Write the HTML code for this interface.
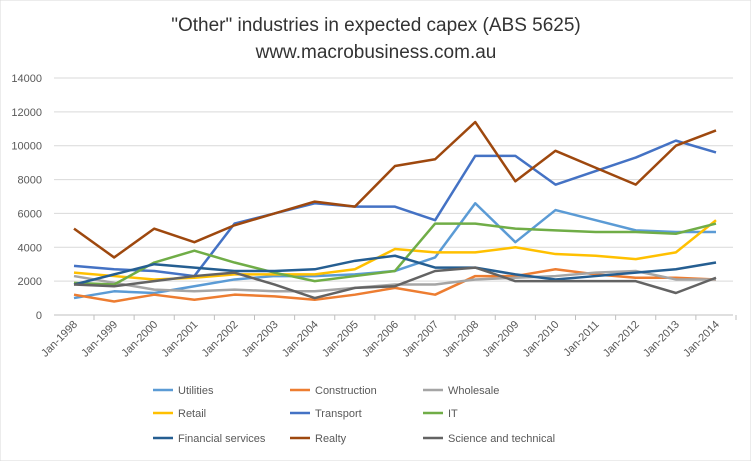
<!DOCTYPE html>
<html><head><meta charset="utf-8"><style>
body{margin:0;background:#fff;font-family:"Liberation Sans",sans-serif}
svg text{font-family:"Liberation Sans",sans-serif}
</style></head><body>
<svg id="c" width="751" height="461" xmlns="http://www.w3.org/2000/svg">
<rect width="751" height="461" fill="#fff" stroke="#d9d9d9"/>
<text x="376" y="31" text-anchor="middle" font-size="19" fill="#333">"Other" industries in expected capex (ABS 5625)</text>
<text x="376" y="58" text-anchor="middle" font-size="19" fill="#333">www.macrobusiness.com.au</text>
<g id="grid"></g><g id="series"></g><g id="legend"></g>
</svg>
<script>
const categories=["Jan-1998","Jan-1999","Jan-2000","Jan-2001","Jan-2002","Jan-2003","Jan-2004","Jan-2005","Jan-2006","Jan-2007","Jan-2008","Jan-2009","Jan-2010","Jan-2011","Jan-2012","Jan-2013","Jan-2014"];
const yTicks=[0,2000,4000,6000,8000,10000,12000,14000];
const seriesNames=["Utilities","Construction","Wholesale","Retail","Transport","IT","Financial services","Realty","Science and technical"];
const utilities=[1000,1400,1300,1700,2100,2300,2300,2400,2600,3400,6600,4300,6200,5600,5000,4900,4900];
const construction=[1200,800,1200,900,1200,1100,900,1200,1600,1200,2300,2300,2700,2400,2200,2200,2100];
const wholesale=[2300,1900,1500,1400,1500,1400,1400,1600,1800,1800,2100,2200,2300,2500,2600,2100,2100];
const retail=[2500,2300,2100,2200,2400,2400,2400,2700,3900,3700,3700,4000,3600,3500,3300,3700,5600];
const transport=[2900,2700,2600,2300,5400,6000,6600,6400,6400,5600,9400,9400,7700,8500,9300,10300,9600];
const it=[1900,1800,3100,3800,3100,2500,2000,2300,2600,5400,5400,5100,5000,4900,4900,4800,5400];
const financial=[1800,2400,3000,2800,2600,2600,2700,3200,3500,2800,2800,2400,2100,2300,2500,2700,3100];
const realty=[5100,3400,5100,4300,5300,6000,6700,6400,8800,9200,11400,7900,9700,8700,7700,10000,10900];
const science=[1800,1700,2000,2300,2500,1800,1000,1600,1700,2600,2800,2000,2000,2000,2000,1300,2200];
const allSeries=[utilities,construction,wholesale,retail,transport,it,financial,realty,science];
const colors=["#5B9BD5","#ED7D31","#A5A5A5","#FFC000","#4472C4","#70AD47","#255E91","#9E480E","#636363"];
const NS="http://www.w3.org/2000/svg";
const X0=74,X1=716,Y0=315,Y1=78;
const x=i=>X0+(X1-X0)*i/(categories.length-1);
const y=v=>Y0-(Y0-Y1)*v/14000;
function mk(tag,attrs,parent,txt){const e=document.createElementNS(NS,tag);for(const k in attrs)e.setAttribute(k,attrs[k]);if(txt!==undefined)e.textContent=txt;parent.appendChild(e);return e;}
const grid=document.getElementById('grid');
yTicks.forEach(t=>{
 const l=mk('line',{x1:54,x2:733,y1:y(t),y2:y(t),stroke:t===0?'#bfbfbf':'#d9d9d9','stroke-width':1},grid);
 
 
 const tx=mk('text',{x:42,y:y(t)+4,'text-anchor':'end','font-size':11,fill:'#595959'},grid,String(t));
 
 
});
categories.forEach((c,i)=>{
 const tk=mk('line',{x1:x(i)+20,x2:x(i)+20,y1:Y0,y2:Y0+5,stroke:'#bfbfbf'},grid);
 
 
 const tx=mk('text',{x:x(i)+4,y:Y0+10,'text-anchor':'end','font-size':11,fill:'#595959',transform:`rotate(-45 ${x(i)+4} ${Y0+10})`},grid,c);
 
 
});
const sg=document.getElementById('series');
allSeries.forEach((s,k)=>{
 const p=mk('polyline',{points:s.map((v,i)=>x(i)+','+y(v)).join(' '),fill:'none',stroke:colors[k],'stroke-width':2.5,'stroke-linejoin':'round'},sg);
 
 
});
const lg=document.getElementById('legend');
const lx=[153,290,423],ly=[390,413,438];
seriesNames.forEach((n,k)=>{
 const cx=lx[k%3],cy=ly[Math.floor(k/3)];
 const l=mk('line',{x1:cx,x2:cx+20,y1:cy,y2:cy,stroke:colors[k],'stroke-width':2.5},lg);
 
 
 const t=mk('text',{x:cx+25,y:cy+4,'font-size':11,fill:'#595959'},lg,n);
 
 
});
</script>
</body></html>
